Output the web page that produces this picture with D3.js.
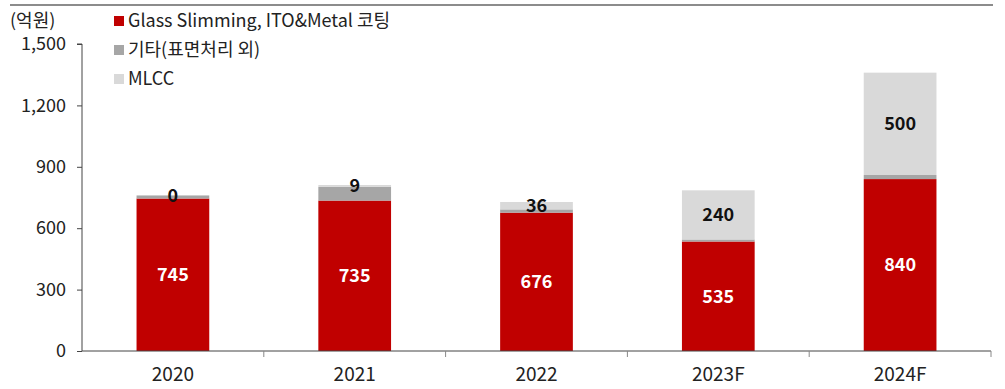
<!DOCTYPE html>
<html>
<head>
<meta charset="utf-8">
<script src="https://cdn.jsdelivr.net/npm/d3@7"></script>
<style>
  html, body { margin: 0; padding: 0; background: #fff; }
  svg text { font-family: "Noto Sans CJK KR", "Noto Sans", sans-serif; }
</style>
</head>
<body>
<svg id="chart" width="1005" height="389"></svg>
<script>
// Categories and stacked series (억원)
const years = ["2020", "2021", "2022", "2023F", "2024F"];
const glassValues = [745, 735, 676, 535, 840];
const otherValues = [15, 67, 16, 10, 20];
const mlccValues = [0, 9, 36, 240, 500];
const yTicks = [0, 300, 600, 900, 1200, 1500];

const seriesNames = ["Glass Slimming, ITO&Metal 코팅", "기타(표면처리 외)", "MLCC"];
const seriesColors = ["#C00000", "#A6A6A6", "#D9D9D9"];

const rows = years.map((y, i) => ({
  year: y, glass: glassValues[i], other: otherValues[i], mlcc: mlccValues[i]
}));
const keys = ["glass", "other", "mlcc"];
const stacked = d3.stack().keys(keys)(rows);

const svg = d3.select("#chart");

const x = d3.scaleBand().domain(years).range([82, 991]).paddingInner(0).paddingOuter(0);
const y = d3.scaleLinear().domain([0, 1500]).range([351, 44]);
const barW = x.bandwidth() * 0.4;

// top rule
svg.append("line")
  .attr("x1", 10).attr("x2", 993).attr("y1", 5).attr("y2", 5)
  .attr("stroke", "#8c8c8c").attr("stroke-width", 2);

// unit label
svg.append("text").attr("x", 10).attr("y", 21).attr("dy", "0.35em")
  .attr("font-size", 18).attr("fill", "#222").text("(억원)");

// bars
const groups = svg.append("g").selectAll("g").data(stacked).join("g")
  .attr("fill", (d, i) => seriesColors[i]);
groups.selectAll("rect").data(d => d).join("rect")
  .attr("x", d => x(d.data.year) + (x.bandwidth() - barW) / 2)
  .attr("width", barW)
  .attr("y", d => y(d[1]))
  .attr("height", d => y(d[0]) - y(d[1]));

// y axis
const yAxis = d3.axisLeft(y).tickValues(yTicks).tickSize(5).tickPadding(11)
  .tickFormat(d3.format(","));
const gy = svg.append("g").attr("transform", "translate(82,0)").call(yAxis);
gy.select(".domain").attr("stroke", "#444").attr("d", "M-5,44H0V351");
gy.selectAll(".tick line").attr("stroke", "#444");
gy.selectAll(".tick text").attr("font-size", 18).attr("fill", "#222")
  .attr("font-family", "\"Noto Sans CJK KR\", sans-serif");

// x axis
const gx = svg.append("g").attr("transform", "translate(0,351)");
gx.append("line").attr("x1", 82).attr("x2", 991).attr("y1", 0).attr("y2", 0)
  .attr("stroke", "#444").attr("stroke-width", 1);
const bounds = years.map(d => x(d)).concat([x.range()[1]]);
gx.selectAll("line.tk").data(bounds.slice(1)).join("line").attr("class", "tk")
  .attr("x1", d => d).attr("x2", d => d).attr("y1", 0).attr("y2", 6)
  .attr("stroke", "#888");
gx.selectAll("text").data(years).join("text")
  .attr("x", d => x(d) + x.bandwidth() / 2).attr("y", 23).attr("dy", "0.35em")
  .attr("text-anchor", "middle").attr("font-size", 19).attr("fill", "#222")
  .text(d => d);

// value labels: glass (white) in red, MLCC (black) in light segment
const labels = svg.append("g").attr("font-weight", "bold").attr("font-size", 18)
  .attr("text-anchor", "middle");
labels.selectAll("text.g").data(stacked[0]).join("text").attr("class", "g")
  .attr("x", d => x(d.data.year) + x.bandwidth() / 2)
  .attr("y", d => (y(d[0]) + y(d[1])) / 2)
  .attr("dy", "0.35em").attr("fill", "#fff")
  .text(d => d.data.glass);
labels.selectAll("text.m").data(stacked[2]).join("text").attr("class", "m")
  .attr("x", d => x(d.data.year) + x.bandwidth() / 2)
  .attr("y", d => (y(d[0]) + y(d[1])) / 2)
  .attr("dy", "0.35em").attr("fill", "#111")
  .text(d => d.data.mlcc);

// legend
const legend = svg.append("g").selectAll("g").data(seriesNames).join("g")
  .attr("transform", (d, i) => `translate(114, ${21 + i * 29})`);
legend.append("rect").attr("x", 0).attr("y", -5).attr("width", 10).attr("height", 10)
  .attr("fill", (d, i) => seriesColors[i]);
legend.append("text").attr("x", 14).attr("y", 0).attr("dy", "0.35em")
  .attr("font-size", 18).attr("fill", "#222").text(d => d);
</script>
</body>
</html>
